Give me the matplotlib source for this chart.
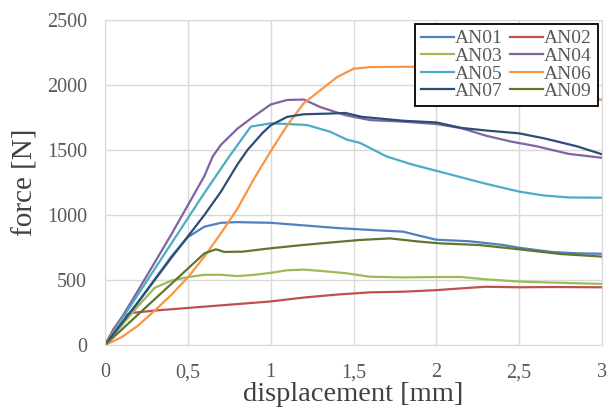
import matplotlib
matplotlib.use("Agg")
import matplotlib.pyplot as plt

plt.rcParams['font.family'] = ['Liberation Serif', 'DejaVu Serif']

an01_x = [0, 0.2, 0.4, 0.5, 0.6, 0.7, 0.8, 1.0, 1.2, 1.4, 1.6, 1.8, 1.9, 2.0, 2.2, 2.4, 2.5, 2.7, 2.85, 3.0]
an01_y = [0, 330, 680, 830, 910, 940, 945, 940, 920, 900, 885, 872, 840, 810, 798, 770, 748, 715, 705, 702]

an02_x = [0, 0.05, 0.1, 0.15, 0.3, 0.5, 0.7, 1.0, 1.2, 1.4, 1.6, 1.8, 2.0, 2.2, 2.3, 2.5, 2.7, 3.0]
an02_y = [0, 120, 210, 245, 265, 285, 305, 335, 365, 388, 405, 410, 422, 440, 448, 444, 446, 444]

an03_x = [0, 0.1, 0.2, 0.3, 0.4, 0.5, 0.6, 0.7, 0.8, 0.9, 1.0, 1.1, 1.2, 1.3, 1.45, 1.6, 1.8, 2.0, 2.15, 2.3, 2.5, 2.7, 3.0]
an03_y = [0, 150, 300, 440, 495, 522, 540, 540, 530, 540, 555, 575, 580, 570, 553, 525, 520, 523, 523, 505, 488, 480, 470]

an04_x = [0, 0.2, 0.4, 0.6, 0.65, 0.7, 0.8, 0.9, 1.0, 1.1, 1.2, 1.3, 1.45, 1.6, 1.8, 2.0, 2.15, 2.3, 2.45, 2.6, 2.8, 3.0]
an04_y = [0, 420, 850, 1300, 1450, 1540, 1665, 1760, 1850, 1885, 1888, 1830, 1768, 1730, 1718, 1700, 1668, 1610, 1565, 1530, 1470, 1440]

an05_x = [0, 0.2, 0.4, 0.6, 0.75, 0.88, 1.0, 1.1, 1.22, 1.36, 1.46, 1.54, 1.7, 1.85, 2.0, 2.15, 2.3, 2.5, 2.65, 2.8, 3.0]
an05_y = [0, 390, 780, 1170, 1450, 1680, 1705, 1700, 1692, 1640, 1580, 1554, 1450, 1390, 1340, 1290, 1240, 1180, 1150, 1135, 1133]

an06_x = [0, 0.1, 0.2, 0.3, 0.4, 0.5, 0.6, 0.7, 0.8, 0.9, 1.0, 1.1, 1.2, 1.3, 1.4, 1.5, 1.6, 1.8, 2.0, 2.2, 2.4, 2.6, 2.8, 3.0]
an06_y = [0, 60, 150, 265, 385, 520, 680, 860, 1050, 1280, 1490, 1690, 1860, 1960, 2060, 2125, 2138, 2140, 2140, 2138, 2080, 2000, 1940, 1885]

an07_x = [0, 0.2, 0.4, 0.6, 0.7, 0.8, 0.86, 0.95, 1.0, 1.1, 1.2, 1.35, 1.45, 1.55, 1.8, 2.0, 2.15, 2.3, 2.5, 2.65, 2.85, 3.0]
an07_y = [0, 330, 670, 1000, 1180, 1390, 1500, 1630, 1690, 1755, 1775, 1780, 1785, 1755, 1725, 1712, 1670, 1650, 1628, 1590, 1528, 1467]

an09_x = [0, 0.2, 0.4, 0.6, 0.67, 0.72, 0.83, 1.0, 1.2, 1.42, 1.54, 1.72, 1.9, 2.02, 2.26, 2.5, 2.75, 3.0]
an09_y = [0, 235, 470, 705, 736, 716, 718, 744, 770, 795, 808, 820, 795, 782, 769, 736, 700, 680]

series = [
    ("AN01", an01_x, an01_y, "#4F81BD"),
    ("AN02", an02_x, an02_y, "#C0504D"),
    ("AN03", an03_x, an03_y, "#9BBB59"),
    ("AN04", an04_x, an04_y, "#8064A2"),
    ("AN05", an05_x, an05_y, "#4BACC6"),
    ("AN06", an06_x, an06_y, "#F79646"),
    ("AN07", an07_x, an07_y, "#2C4D75"),
    ("AN09", an09_x, an09_y, "#5F7530"),
]

xticks = [0, 0.5, 1, 1.5, 2, 2.5, 3]
xticklabels = ["0", "0,5", "1", "1,5", "2", "2,5", "3"]
yticks = [0, 500, 1000, 1500, 2000, 2500]

fig = plt.figure(figsize=(6.14, 4.16), dpi=100)
ax = fig.add_axes([105/614, 1-345/416, (602-105)/614, (345-20)/416])

handles = []
for name, x, y, c in series:
    h, = ax.plot(x, y, color=c, lw=1.6, label=name)
    handles.append(h)

ax.set_xlim(0, 3)
ax.set_ylim(0, 2500)
ax.set_xticks(xticks)
ax.set_xticklabels(xticklabels)
ax.set_yticks(yticks)
ax.grid(True, color="#D9D9D9", lw=1)
ax.set_axisbelow(True)
for s in ax.spines.values():
    s.set_color("#D9D9D9")
ax.tick_params(length=0, labelsize=14.5, colors="#595959")
ax.tick_params(axis='x', pad=13)
ax.tick_params(axis='y', pad=13)
ax.set_xlabel("displacement [mm]", fontsize=20.5, color="#404040", labelpad=0)
ax.set_ylabel("force [N]", fontsize=21, color="#404040", labelpad=6)

# row-wise legend order (two columns)
order = [0, 2, 4, 6, 1, 3, 5, 7]
hs = [handles[i] for i in order]
ls = [series[i][0] for i in order]
leg = fig.legend(hs, ls, loc="upper right", bbox_to_anchor=(598/614, 1-24/416), ncol=2,
                 fontsize=14, frameon=True, fancybox=False, handlelength=1.7,
                 handletextpad=0.05, columnspacing=0.4, labelspacing=0.0,
                 borderpad=0.3, borderaxespad=0)
leg.get_frame().set_edgecolor("black")
leg.get_frame().set_linewidth(1.3)
leg.get_frame().set_alpha(1)
for t in leg.get_texts():
    t.set_color("#595959")

fig.savefig("out.png", dpi=100)
